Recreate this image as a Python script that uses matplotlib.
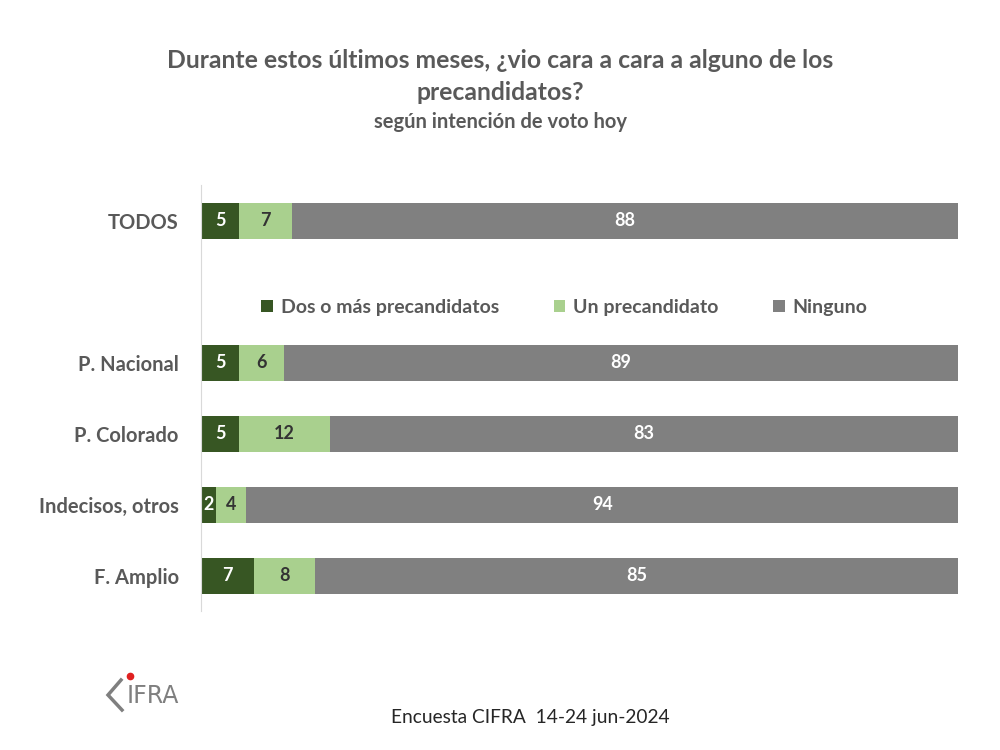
import numpy as np
import matplotlib.pyplot as plt
from matplotlib.lines import Line2D

plt.rcParams['font.family'] = ['Lato', 'DejaVu Sans']

# data
categorias = ['TODOS', '', 'P. Nacional', 'P. Colorado', 'Indecisos, otros', 'F. Amplio']
dos_o_mas = [5, np.nan, 5, 5, 2, 7]
un_precand = [7, np.nan, 6, 12, 4, 8]
ninguno = [88, np.nan, 89, 83, 94, 85]

series = ['Dos o más precandidatos', 'Un precandidato', 'Ninguno']
colores = ['#375623', '#A9D08E', '#808080']
col_txt = ['white', '#333333', 'white']

fig = plt.figure(figsize=(10, 7.5), dpi=100)
ax = fig.add_axes([0.201, 0.185, 0.757, 0.568])

y = np.arange(len(categorias))
left = np.zeros(len(categorias))
for vals, nom, c, tc in zip([dos_o_mas, un_precand, ninguno], series, colores, col_txt):
    v = np.array(vals, dtype=float)
    ax.barh(y, np.nan_to_num(v), left=left, height=0.5, color=c, label=nom)
    for yi, (l, w) in enumerate(zip(left, v)):
        if not np.isnan(w):
            ax.text(l + w / 2, yi, '%d' % w, ha='center', va='center',
                    color=tc, fontsize=13, fontweight='bold')
    left = left + np.nan_to_num(v)

ax.set_xlim(0, 100)
ax.set_ylim(len(categorias) - 0.5, -0.5)
ax.set_yticks(y)
ax.set_yticklabels(categorias, fontsize=14.5, fontweight='bold', color='#595959')
ax.tick_params(axis='y', length=0, pad=16)
ax.set_xticks([])
for s in ['top', 'right', 'bottom']:
    ax.spines[s].set_visible(False)
ax.spines['left'].set_color('#d9d9d9')

leg = ax.legend(loc='center', bbox_to_anchor=(0.48, 0.714), ncol=3, frameon=False,
                handlelength=0.6, handleheight=0.6, handletextpad=0.4, columnspacing=2.8,
                prop={'size': 14, 'weight': 'bold'})
for t in leg.get_texts():
    t.set_color('#595959')

fig.text(0.5, 0.92, 'Durante estos últimos meses, ¿vio cara a cara a alguno de los',
         ha='center', va='center', fontsize=17.8, fontweight='bold', color='#595959')
fig.text(0.5, 0.877, 'precandidatos?', ha='center', va='center',
         fontsize=17.8, fontweight='bold', color='#595959')
fig.text(0.5, 0.837, 'según intención de voto hoy', ha='center', va='center',
         fontsize=14.5, fontweight='bold', color='#595959')

fig.text(0.53, 0.044, 'Encuesta CIFRA  14-24 jun-2024', ha='center', va='center',
         fontsize=13.8, color='#262626')

# logo CIFRA
fig.add_artist(Line2D([0.121, 0.108, 0.122], [1 - 680 / 750, 1 - 695 / 750, 1 - 710 / 750],
                      transform=fig.transFigure, color='#7f7f7f', lw=2.5,
                      solid_joinstyle='miter'))
fig.text(0.127, 1 - 703 / 750, 'IFRA', ha='left', va='baseline', fontsize=17,
         color='#7f7f7f', family='DejaVu Sans')
fig.add_artist(Line2D([0.130], [1 - 676 / 750], transform=fig.transFigure,
                      marker='o', markersize=4.5, color='#e02020', lw=0))

plt.savefig('out.png', dpi=100)
